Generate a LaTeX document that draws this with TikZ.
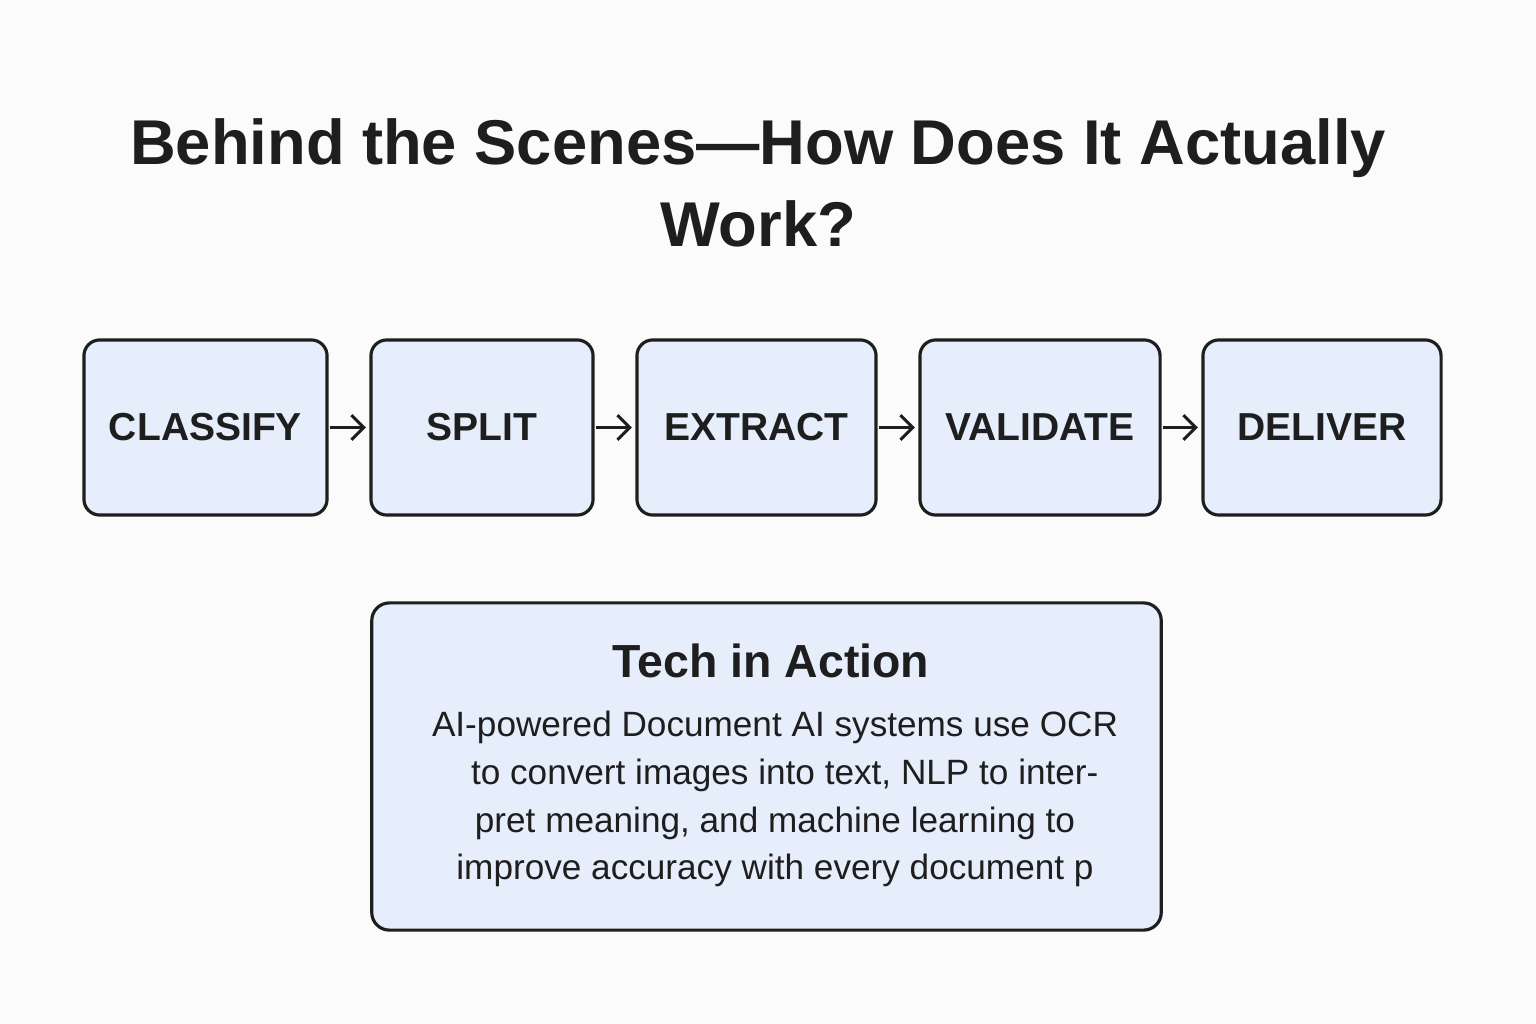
\documentclass[tikz,border=0pt]{standalone}
\usepackage{fontspec}
\setmainfont{Liberation Sans}
\usetikzlibrary{positioning,arrows.meta}
\definecolor{boxfill}{HTML}{E6EEFC}
\definecolor{ink}{HTML}{1E1E1E}
\definecolor{paper}{HTML}{FBFBFB}
\tikzset{
  stage/.style={draw=ink,line width=0.9pt,fill=boxfill,rounded corners=4.5pt,
    minimum height=1.75cm,inner sep=0pt,font=\fontsize{11.1}{13}\selectfont\bfseries,text=ink},
  flow/.style={-{Straight Barb[length=3.5pt,width=7pt]},line width=0.85pt,draw=ink}
}
\begin{document}
\begin{tikzpicture}[x=0.01cm,y=-0.01cm]

\fill[paper] (0,0) rectangle (1536,1024);
\useasboundingbox (0,0) rectangle (1536,1024);

% title
\node[text=ink,font=\fontsize{18}{21.5}\selectfont\bfseries,align=center] (title) at (758,183)
  {Behind the Scenes---How Does It Actually\\[2pt]Work?};

      % the five stages
\node[stage,minimum width=2.43cm] (classify) at (205.5,427.5) {CLASSIFY};
\node[stage,minimum width=2.22cm] (split) at (482,427.5) {SPLIT};
\node[stage,minimum width=2.39cm] (extract) at (756.5,427.5) {EXTRACT};
\node[stage,minimum width=2.40cm] (validate) at (1040,427.5) {VALIDATE};
\node[stage,minimum width=2.38cm] (deliver) at (1322,427.5) {DELIVER};

\foreach \a/\b in {classify/split,split/extract,extract/validate,validate/deliver}
	\draw[flow] ([xshift=0.5pt]\a.east) -- ([xshift=-1pt]\b.west);

% tech box
\node[draw=ink,line width=0.9pt,fill=boxfill,rounded corners=5pt,minimum width=7.89cm,minimum height=3.27cm] (tech) at (766.5,766.5) {};
\node[text=ink,font=\fontsize{13.2}{16}\selectfont\bfseries] (techtitle) at (771,661) {Tech in Action};
\node[text=ink,font=\fontsize{10}{13.6}\selectfont,align=center] (techtext) at (775,799)
  {AI-powered Document AI systems use OCR\\
   \ \ to convert images into text, NLP to inter-\\
   pret meaning, and machine learning to\\
   improve accuracy with every document p};

\end{tikzpicture}
\end{document}
